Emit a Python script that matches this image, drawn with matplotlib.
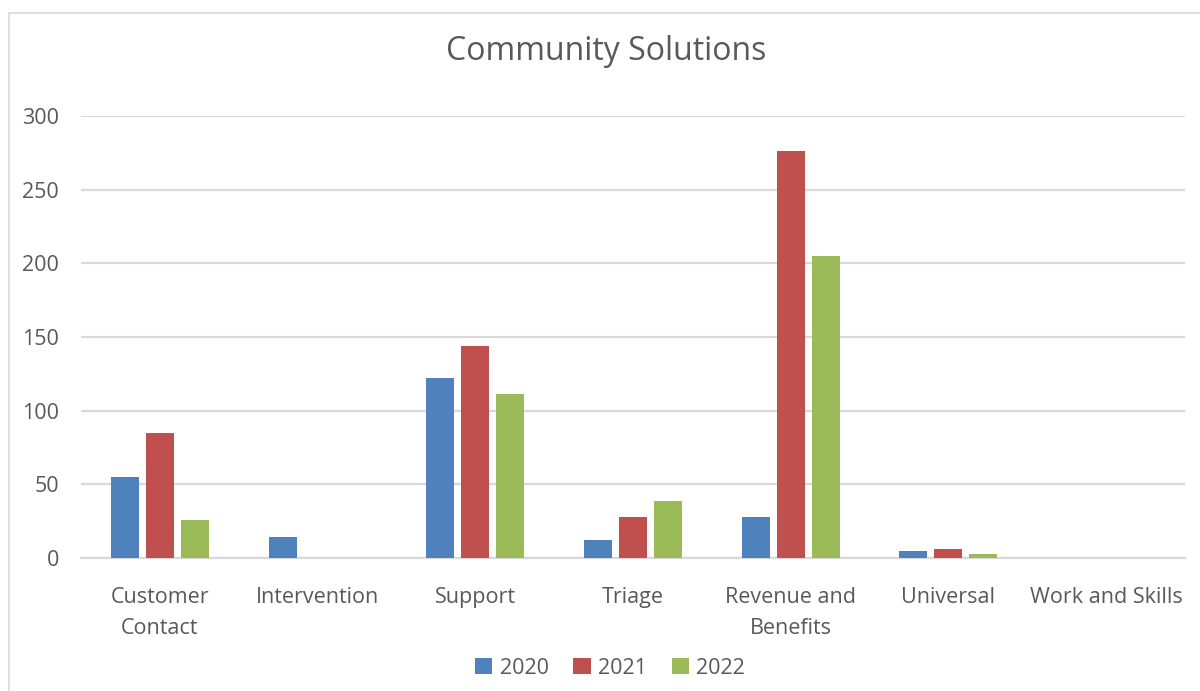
import numpy as np
import matplotlib
matplotlib.use("Agg")
import matplotlib.pyplot as plt
from matplotlib.patches import Rectangle

CATEGORIES = ["Customer\nContact", "Intervention", "Support", "Triage",
              "Revenue and\nBenefits", "Universal", "Work and Skills"]
YEARS = ["2020", "2021", "2022"]
V2020 = [55, 14, 122, 12, 28, 5, 0]
V2021 = [85, 0, 144, 28, 276, 6, 0]
V2022 = [26, 0, 111, 39, 205, 3, 0]
COLORS = ["#4f81bd", "#c0504d", "#9bbb59"]
TXT = "#595959"

plt.rcParams["font.family"] = ["Open Sans", "DejaVu Sans"]

fig = plt.figure(figsize=(12, 6.91), dpi=100)
ax = fig.add_axes([81 / 1200, 1 - 558 / 691, 1104 / 1200, 442 / 691])

# outer chart border
fig.patches.append(Rectangle((9 / 1200, -0.01), 1.2, 1 - 13 / 691 + 0.01,
                             transform=fig.transFigure, fill=False,
                             edgecolor="#d9d9d9", lw=1.2))

x = np.arange(len(CATEGORIES))
w = 0.178
step = 0.222
for i, (vals, yr) in enumerate(zip([V2020, V2021, V2022], YEARS)):
    ax.bar(x + (i - 1) * step, vals, w, color=COLORS[i], label=yr, zorder=3)

ax.set_xlim(-0.5, len(CATEGORIES) - 0.5)
ax.set_ylim(0, 300)
ax.set_yticks(range(0, 301, 50))
ax.yaxis.grid(True, color="#d9d9d9", lw=1.6, zorder=0)
for s in ["top", "right", "left"]:
    ax.spines[s].set_visible(False)
ax.spines["bottom"].set_color("#d9d9d9")
ax.spines["bottom"].set_linewidth(1.6)
ax.tick_params(axis="both", length=0, colors=TXT, labelsize=15.5)
ax.tick_params(axis="y", pad=16)
ax.tick_params(axis="x", pad=21)
ax.set_xticks(x)
ax.set_xticklabels(CATEGORIES, linespacing=1.6)

fig.text(606 / 1200, 1 - 52 / 691, "Community Solutions", ha="center", va="center",
         fontsize=23, color=TXT)

leg = ax.legend(loc="center", bbox_to_anchor=(610 / 1200, 1 - 668 / 691),
                bbox_transform=fig.transFigure, ncol=3, frameon=False,
                fontsize=15.5, handlelength=0.8, handleheight=0.8,
                handletextpad=0.35, columnspacing=1.15)
for t in leg.get_texts():
    t.set_color(TXT)

fig.savefig("out.png", dpi=100)
